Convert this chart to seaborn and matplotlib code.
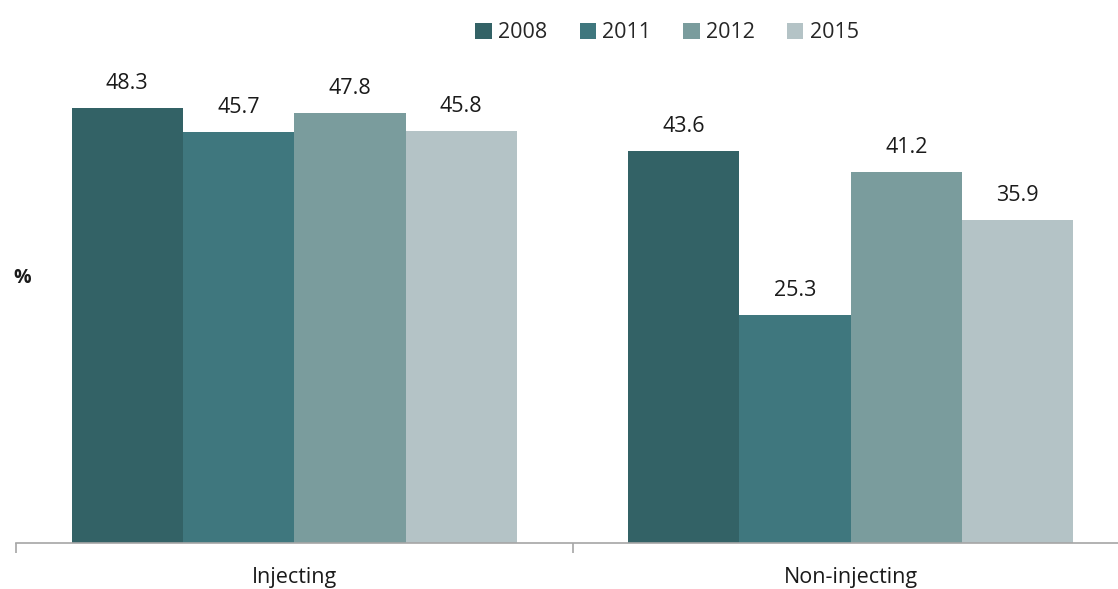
import seaborn as sns
import matplotlib.pyplot as plt
import pandas as pd

groups = ["Injecting", "Non-injecting"]
years = ["2008", "2011", "2012", "2015"]
values_2008 = [48.3, 43.6]
values_2011 = [45.7, 25.3]
values_2012 = [47.8, 41.2]
values_2015 = [45.8, 35.9]
colors = ["#336266", "#3f777e", "#7a9c9d", "#b4c3c6"]

rows = []
for yr, vals in zip(years, [values_2008, values_2011, values_2012, values_2015]):
    for g, v in zip(groups, vals):
        rows.append({"group": g, "year": yr, "value": v})
df = pd.DataFrame(rows)

sns.set_style("white")
plt.rcParams["font.family"] = ["Open Sans", "DejaVu Sans"]

fig = plt.figure(figsize=(11.18, 5.89), dpi=100)
ax = fig.add_axes([16 / 1118, 46 / 589, 1113 / 1118, 540 / 589])

sns.barplot(data=df, x="group", y="value", hue="year", palette=colors,
            width=0.8, saturation=1, linewidth=0, ax=ax, legend=True)

for cont in ax.containers:
    ax.bar_label(cont, fmt="%.1f", padding=10, fontsize=15.5, color="#1a1a1a")

ax.set_ylim(0, 60)
ax.set_xlim(-0.5, 1.5)
ax.set_xlabel("")
ax.set_ylabel("")
ax.set_yticks([])
for s in ["top", "right", "left"]:
    ax.spines[s].set_visible(False)
ax.spines["bottom"].set_color("#a6a6a6")
ax.spines["bottom"].set_linewidth(1.2)
ax.set_xticks([0, 1])
ax.set_xticklabels(groups, fontsize=15.5, color="#1a1a1a")
ax.tick_params(axis="x", which="major", length=0, pad=17)
ax.set_xticks([-0.5, 0.5, 1.5], minor=True)
ax.tick_params(axis="x", which="minor", bottom=True, length=7, color="#a6a6a6",
               width=1.2, direction="out")

leg = ax.legend(loc="upper center", bbox_to_anchor=(0.585, 1.0), ncol=4, frameon=False,
                fontsize=15.5, handlelength=0.75, handleheight=0.75, columnspacing=1.5,
                handletextpad=0.3)

fig.text(22 / 1118, 1 - 278 / 589, "%", fontsize=14, fontweight="bold",
         ha="center", va="center", color="#1a1a1a")

fig.savefig("out.png", dpi=100)
